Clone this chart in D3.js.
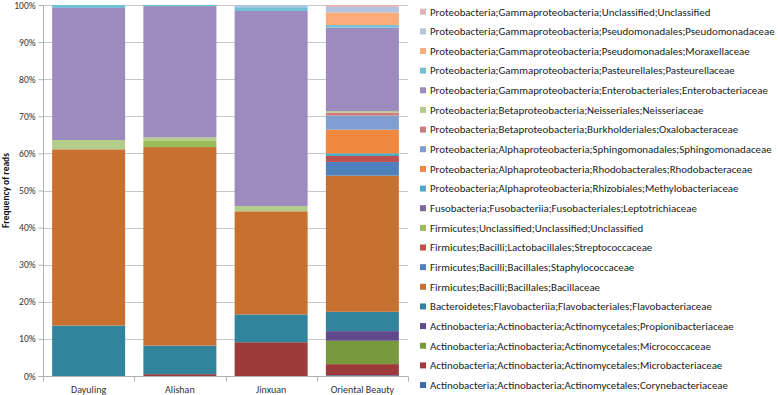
<!DOCTYPE html>
<html>
<head>
<meta charset="utf-8">
<script src="https://cdn.jsdelivr.net/npm/d3@7"></script>
<style>
  body { margin: 0; background: #fff; }
  text { font-family: Carlito, Calibri, "Liberation Sans", Arial, sans-serif; fill: #222; }
</style>
</head>
<body>
<div id="graph"></div>
<script>
// samples along the x axis
let samples = ["Dayuling", "Alishan", "Jinxuan", "Oriental Beauty"];

// taxa, stacked from the bottom up
let taxa = [
  "Actinobacteria;Actinobacteria;Actinomycetales;Corynebacteriaceae",
  "Actinobacteria;Actinobacteria;Actinomycetales;Microbacteriaceae",
  "Actinobacteria;Actinobacteria;Actinomycetales;Micrococcaceae",
  "Actinobacteria;Actinobacteria;Actinomycetales;Propionibacteriaceae",
  "Bacteroidetes;Flavobacteriia;Flavobacteriales;Flavobacteriaceae",
  "Firmicutes;Bacilli;Bacillales;Bacillaceae",
  "Firmicutes;Bacilli;Bacillales;Staphylococcaceae",
  "Firmicutes;Bacilli;Lactobacillales;Streptococcaceae",
  "Firmicutes;Unclassified;Unclassified;Unclassified",
  "Fusobacteria;Fusobacteriia;Fusobacteriales;Leptotrichiaceae",
  "Proteobacteria;Alphaproteobacteria;Rhizobiales;Methylobacteriaceae",
  "Proteobacteria;Alphaproteobacteria;Rhodobacterales;Rhodobacteraceae",
  "Proteobacteria;Alphaproteobacteria;Sphingomonadales;Sphingomonadaceae",
  "Proteobacteria;Betaproteobacteria;Burkholderiales;Oxalobacteraceae",
  "Proteobacteria;Betaproteobacteria;Neisseriales;Neisseriaceae",
  "Proteobacteria;Gammaproteobacteria;Enterobacteriales;Enterobacteriaceae",
  "Proteobacteria;Gammaproteobacteria;Pasteurellales;Pasteurellaceae",
  "Proteobacteria;Gammaproteobacteria;Pseudomonadales;Moraxellaceae",
  "Proteobacteria;Gammaproteobacteria;Pseudomonadales;Pseudomonadaceae",
  "Proteobacteria;Gammaproteobacteria;Unclassified;Unclassified"
];

let taxa_colors = [
  "#3d6aa8", "#9c3b39", "#789a3d", "#62498c", "#31849b",
  "#c8702f", "#4f81bd", "#c0504d", "#9bbb59", "#8064a2",
  "#4bacc6", "#f0883e", "#7f9fd3", "#cf7b79", "#b2cd89",
  "#9e8bbd", "#72bfd6", "#f9ab78", "#b3c4e3", "#e0b2b1"
];

// percent of reads per taxon, same order as taxa
let dayuling  = [0, 0, 0, 0, 13.6, 47.5, 0, 0, 0, 0, 0, 0, 0, 0, 2.5, 35.6, 0.8, 0, 0, 0];
let alishan   = [0, 0.5, 0, 0, 7.7, 53.5, 0, 0, 1.8, 0, 0, 0, 0, 0, 0.8, 35.4, 0.3, 0, 0, 0];
let jinxuan   = [0, 9.1, 0, 0, 7.5, 27.8, 0, 0, 0, 0, 0, 0, 0, 0, 1.4, 52.6, 1.0, 0, 0.6, 0];
let oriental  = [0.2, 3.0, 6.3, 2.6, 5.2, 36.7, 3.7, 1.6, 0, 0, 0.7, 6.4, 3.8, 0.8, 0.4, 22.5, 0.7, 3.4, 1.5, 0.5];

let y_ticks = [0, 10, 20, 30, 40, 50, 60, 70, 80, 90, 100];

let sample_values = [dayuling, alishan, jinxuan, oriental];

// build rows for d3.stack
let rows = samples.map(function(s, i) {
  let row = {sample: s};
  taxa.forEach(function(t, j) { row[t] = sample_values[i][j]; });
  return row;
});

let width = 778, height = 395;
let plot = {left: 43, right: 408, top: 5, bottom: 376};

let chart = d3.select("#graph")
              .append("svg")
               .attr("width", width)
               .attr("height", height);

let x = d3.scaleBand()
          .domain(samples)
          .range([plot.left, plot.right])
          .paddingInner(0.2)
          .paddingOuter(0.1);

let y = d3.scaleLinear()
          .domain([0, 100])
          .range([plot.bottom, plot.top]);

let color = d3.scaleOrdinal().domain(taxa).range(taxa_colors);

// gridlines
chart.append("g")
     .selectAll("line")
     .data(y_ticks.slice(1))
     .enter().append("line")
      .attr("x1", plot.left)
      .attr("x2", plot.right)
      .attr("y1", function(d) { return Math.round(y(d)) + 0.5; })
      .attr("y2", function(d) { return Math.round(y(d)) + 0.5; })
      .attr("stroke", "#c6c6c6")
      .attr("stroke-width", 1);

// stacked bars
let series = d3.stack().keys(taxa)(rows);

chart.append("g")
     .selectAll("g")
     .data(series)
     .enter().append("g")
      .attr("fill", function(d) { return color(d.key); })
     .selectAll("rect")
     .data(function(d) { return d; })
     .enter().append("rect")
      .attr("x", function(d) { return x(d.data.sample); })
      .attr("width", x.bandwidth())
      .attr("y", function(d) { return y(d[1]); })
      .attr("height", function(d) { return Math.max(0, y(d[0]) - y(d[1])); });

// y axis
let y_axis = chart.append("g")
                  .attr("transform", "translate(" + (plot.left + 0.5) + ",0)")
                  .call(d3.axisLeft(y)
                          .tickValues(y_ticks)
                          .tickSize(5)
                          .tickPadding(3)
                          .tickFormat(function(d) { return d + "%"; }));
y_axis.select(".domain").attr("stroke", "#b0b0b0").attr("d", "M0," + plot.top + "V" + plot.bottom);
y_axis.selectAll(".tick line").attr("stroke", "#b0b0b0");
y_axis.selectAll(".tick text")
      .attr("font-family", "Carlito, Calibri, 'Liberation Sans', Arial, sans-serif")
      .attr("font-size", 9.5)
      .style("fill", "#333");

// x axis
let x_axis = chart.append("g")
                  .attr("transform", "translate(0," + (plot.bottom + 0.5) + ")");
x_axis.append("line")
      .attr("x1", plot.left).attr("x2", plot.right)
      .attr("stroke", "#b0b0b0");
x_axis.selectAll("line.sep")
      .data(d3.range(samples.length + 1))
      .enter().append("line")
       .attr("class", "sep")
       .attr("x1", function(i) { return Math.round(plot.left + i * x.step()) + 0.5; })
       .attr("x2", function(i) { return Math.round(plot.left + i * x.step()) + 0.5; })
       .attr("y1", 0).attr("y2", 5)
       .attr("stroke", "#b0b0b0");
x_axis.selectAll("text")
      .data(samples)
      .enter().append("text")
       .attr("x", function(d) { return x(d) + x.bandwidth() / 2; })
       .attr("y", 16)
       .attr("text-anchor", "middle")
       .attr("font-size", 10)
       .style("fill", "#333")
       .text(function(d) { return d; });

// y axis title
chart.append("text")
     .attr("transform", "translate(9," + ((plot.top + plot.bottom) / 2) + ") rotate(-90)")
     .attr("text-anchor", "middle")
     .attr("font-size", 9.5)
     .attr("font-weight", "bold")
     .style("fill", "#111")
     .text("Frequency of reads");

// legend, top entry is the top of the stack
let legend_taxa = taxa.slice().reverse();
let legend = chart.append("g");
let rows_g = legend.selectAll("g")
                   .data(legend_taxa)
                   .enter().append("g")
                    .attr("transform", function(d, i) { return "translate(420," + (11.7 + i * 19.65) + ")"; });
rows_g.append("rect")
      .attr("x", 0).attr("y", -3)
      .attr("width", 6).attr("height", 6)
      .attr("fill", function(d) { return color(d); });
let labels = rows_g.append("text")
      .attr("x", 10)
      .attr("dy", "0.35em")
      .attr("font-size", 11)
      .style("fill", "#222")
      .text(function(d) { return d; });

// scale the legend font so the longest entry spans the same width as the reference
let ref = labels.filter(function(d) { return d.indexOf("Enterobacteriaceae") >= 0; }).node();
let fs = 11 * 338 / ref.getComputedTextLength();
labels.attr("font-size", fs);
</script>
</body>
</html>
